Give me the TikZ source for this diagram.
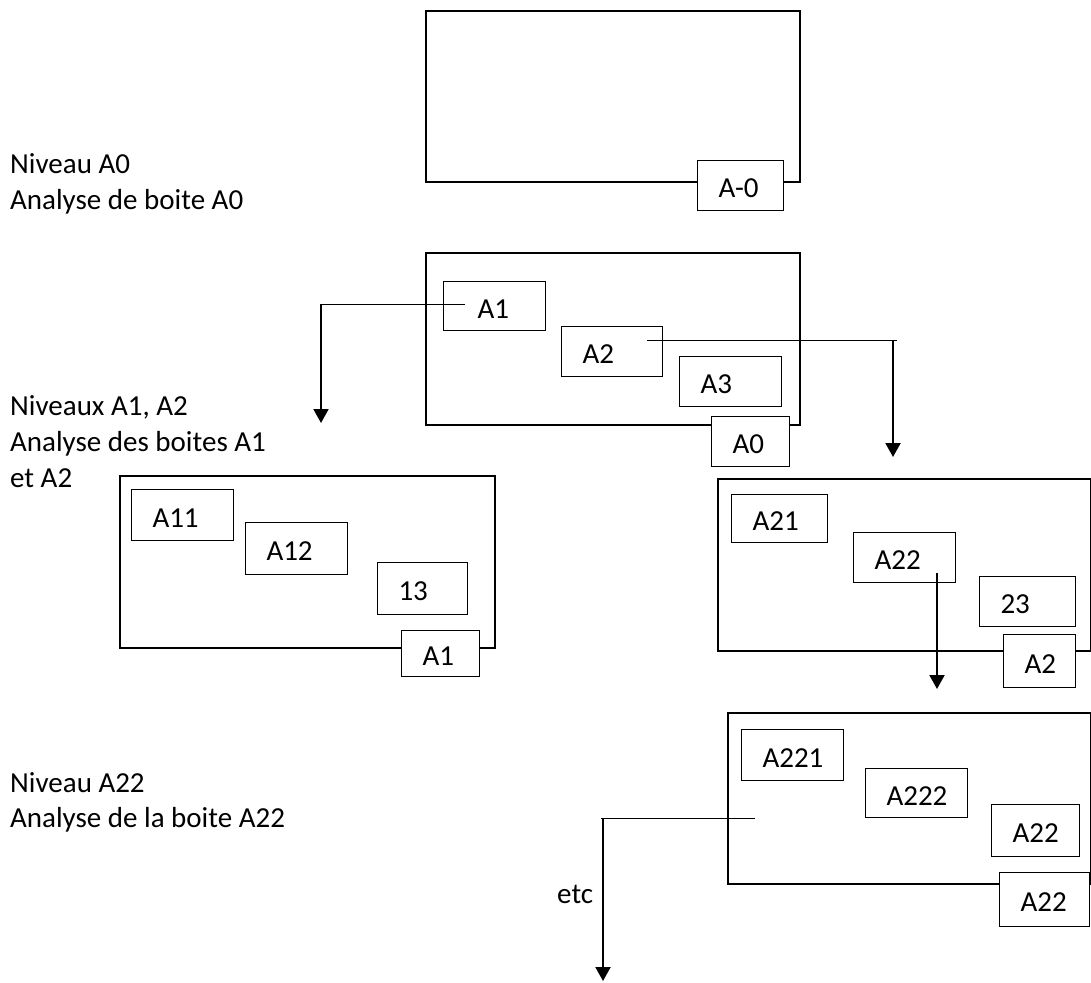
\documentclass[tikz,border=0pt]{standalone}
\usepackage{fontspec}
\setmainfont{Carlito}
\usetikzlibrary{arrows.meta}
\newcommand\diagfont{\fontsize{29}{36}\selectfont}
\begin{document}
\begin{tikzpicture}[x=1pt,y=-1pt,
  frame/.style 2 args={draw, line width=2pt, fill=white, anchor=north west, inner sep=0pt, minimum width=#1pt, minimum height=#2pt},
  ibox/.style n args={3}{draw, line width=1pt, fill=white, anchor=north west, minimum width=#1pt, minimum height=#2pt, inner xsep=21pt, inner ysep=0pt, text width=#3pt, align=left, text height=24pt, text depth=0pt, font=\diagfont},
  lefttxt/.style={anchor=base west, inner sep=0pt, font=\diagfont},
  thinline/.style={line width=1pt},
  arr/.style={line width=2pt, -{Triangle[width=15pt,length=14pt]}}
]
\useasboundingbox (0,0) rectangle (1091,982);

% level texts
\node[lefttxt] (t1) at (10,173) {Niveau A0};
\node[lefttxt] (t2) at (10,209) {Analyse de boite A0};
\node[lefttxt] (t3) at (10,415) {Niveaux A1, A2};
\node[lefttxt] (t4) at (10,451) {Analyse des boites A1};
\node[lefttxt] (t5) at (10,487) {et A2};
\node[lefttxt] (t6) at (10,792) {Niveau A22};
\node[lefttxt] (t7) at (10,827) {Analyse de la boite A22};

% level A-0
\node[frame={374}{171}] (F0) at (425,10) {};
\node[ibox={86}{50}{44}] (LA0m) at (697,160) {A-0};

% level A0
\node[frame={374}{172}] (F1) at (425,252) {};
\node[ibox={102}{49}{34}, inner xsep=34pt] (A1) at (443,281) {A1};
\node[ibox={101}{50}{59}] (A2) at (561,326) {A2};
\node[ibox={102}{50}{60}] (A3) at (679,356) {A3};
\node[ibox={78}{50}{36}] (LA0) at (711,416) {A0};

% level A1
\node[frame={375}{172}] (F2) at (119,475) {};
\node[ibox={102}{51}{60}] (A11) at (131,489) {A11};
\node[ibox={102}{52}{60}] (A12) at (245,522) {A12};
\node[ibox={90}{52}{48}] (A13) at (377,562) {13};
\node[ibox={78}{46}{36}] (LA1) at (401,630) {A1};

% level A2
\node[frame={373}{172}] (F3) at (717,478) {};
\node[ibox={96}{48}{54}] (A21) at (731,494) {A21};
\node[ibox={102}{50}{60}] (A22) at (853,532) {A22};
\node[ibox={96}{50}{54}] (A23) at (979,576) {23};
\node[ibox={72}{53}{30}] (LA2) at (1003,634) {A2};

% level A22
\node[frame={363}{171}] (F4) at (727,712) {};
\node[ibox={102}{51}{60}] (A221) at (741,729) {A221};
\node[ibox={102}{49}{60}] (A222) at (865,768) {A222};
\node[ibox={88}{52}{46}] (A223) at (991,804) {A22};
\node[ibox={90}{54}{48}] (LA22) at (999,872) {A22};

% connectors
\coordinate (p1) at (465,304);
\coordinate (k1) at (321,304);
\coordinate (e1) at (321,423);
\draw[thinline] (p1) -- (k1);
\draw[arr] (k1) -- (e1);

\coordinate (p2) at (647,340);
\coordinate (k2x) at (897,340);
\coordinate (k2) at (893,340);
\coordinate (e2) at (893,457);
\draw[thinline] (p2) -- (k2x);
\draw[arr] (k2) -- (e2);

\coordinate (p3) at (937,573);
\coordinate (e3) at (937,689);
\draw[arr] (p3) -- (e3);

\coordinate (p4) at (755,818);
\coordinate (k4x) at (601,818);
\coordinate (k4) at (603,818);
\coordinate (e4) at (603,981);
\draw[thinline] (p4) -- (k4x);
\draw[arr] (k4) -- (e4);
\node[lefttxt] (etc) at (557,903) {etc};
\end{tikzpicture}
\end{document}
